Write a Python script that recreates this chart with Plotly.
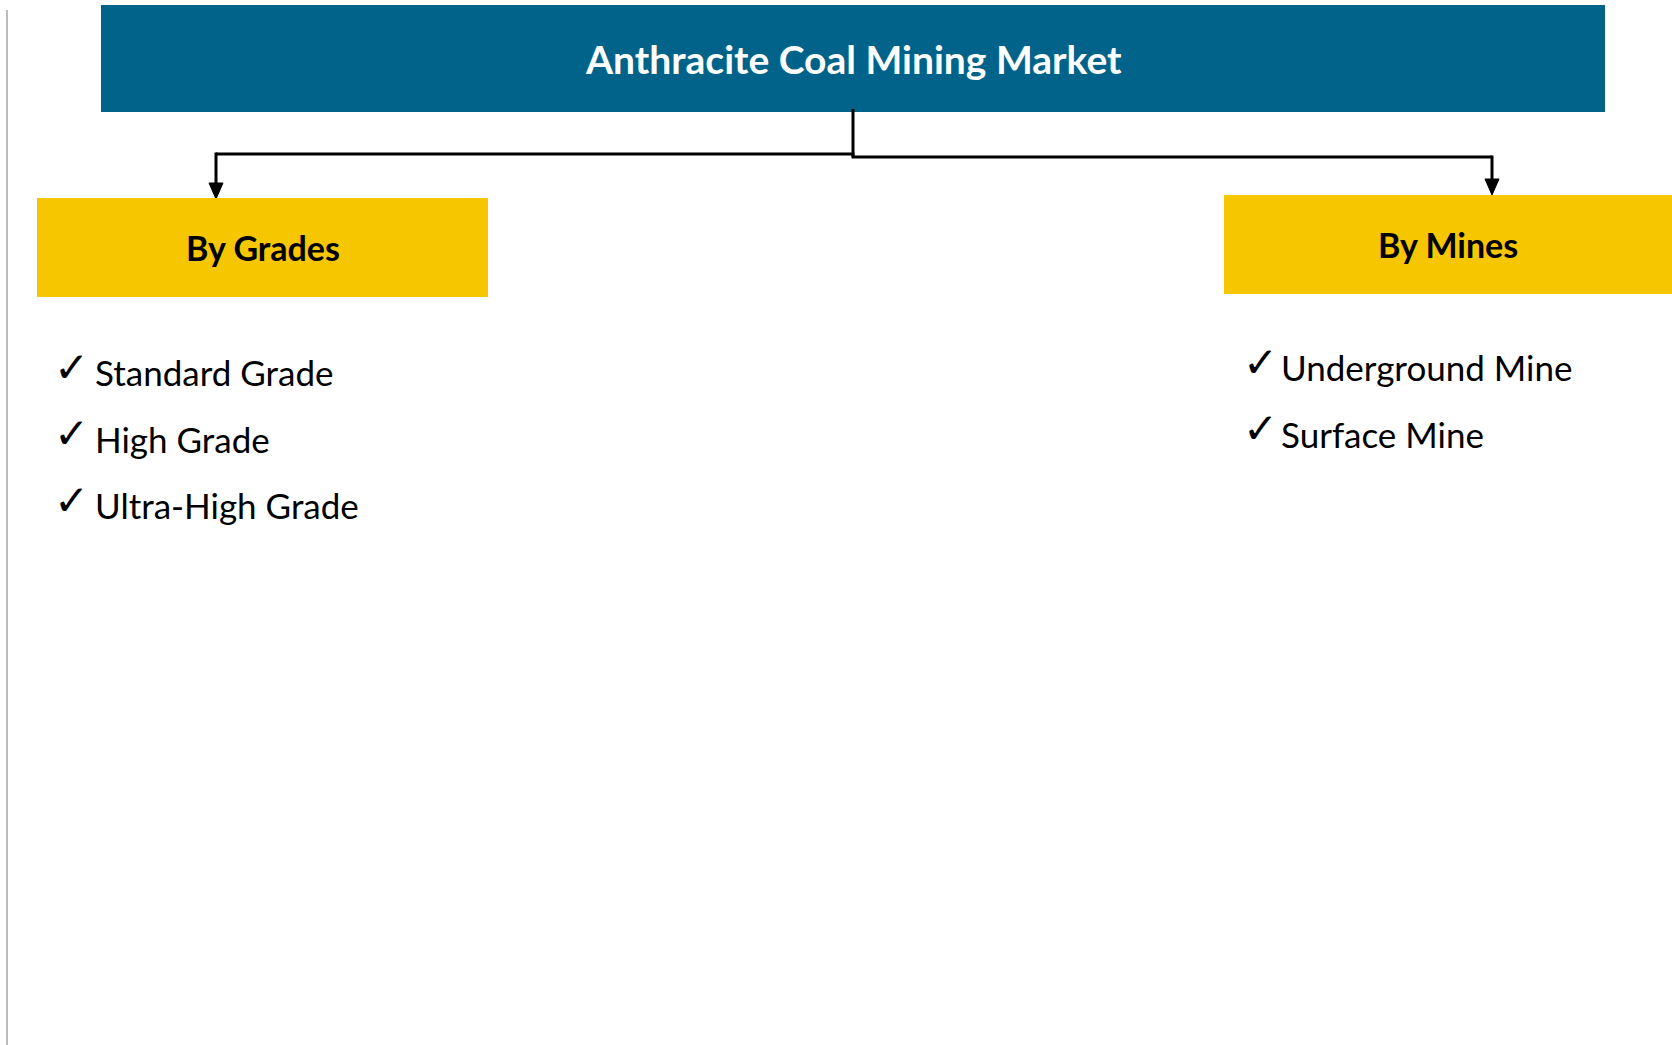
import plotly.graph_objects as go

# ---- content ----
title = "Anthracite Coal Mining Market"
segments = ["By Grades", "By Mines"]
grades = ["Standard Grade", "High Grade", "Ultra-High Grade"]
mines = ["Underground Mine", "Surface Mine"]

BLUE = "#02638A"
YELLOW = "#F6C600"
FONT = "Lato"

W, H = 1672, 1045

fig = go.Figure()
shapes = []
ann = []

# left gray rule
shapes.append(dict(type="line", x0=7, x1=7, y0=10, y1=1045, line=dict(color="#A6A6A6", width=1.5)))

# title box
shapes.append(dict(type="rect", x0=101, x1=1605, y0=5, y1=112, fillcolor=BLUE, line=dict(width=0)))
ann.append(dict(x=853, y=59, text="<b>%s</b>" % title, showarrow=False, xanchor="center", yanchor="middle",
                font=dict(family=FONT, size=39, color="white")))

# connectors
blk = dict(color="black", width=3)
shapes.append(dict(type="line", x0=853, x1=853, y0=109, y1=157, line=blk))
shapes.append(dict(type="line", x0=216, x1=854.5, y0=154, y1=154, line=blk))
shapes.append(dict(type="line", x0=851.5, x1=1492, y0=157, y1=157, line=blk))
shapes.append(dict(type="line", x0=216, x1=216, y0=152.5, y1=186, line=blk))
shapes.append(dict(type="line", x0=1492, x1=1492, y0=155.5, y1=182, line=blk))
for tx, ty in [(216, 199), (1492, 195)]:
    shapes.append(dict(type="path", path="M %d %d L %d %d L %d %d Z" % (tx - 7, ty - 16, tx + 7, ty - 16, tx, ty),
                       fillcolor="black", line=dict(color="black", width=1)))

# segment boxes
boxes = [(37, 488, 198, 297), (1224, 1680, 195, 294)]
for (x0, x1, y0, y1), lab in zip(boxes, segments):
    shapes.append(dict(type="rect", x0=x0, x1=x1, y0=y0, y1=y1, fillcolor=YELLOW, line=dict(width=0)))
    ann.append(dict(x=(x0 + min(x1, 1672)) / 2, y=(y0 + y1) / 2, text="<b>%s</b>" % lab, showarrow=False,
                    xanchor="center", yanchor="middle", font=dict(family=FONT, size=34, color="black")))

# bullet lists
def add_list(items, xcheck, xtext, y_first):
    for i, it in enumerate(items):
        y = y_first + i * 66.7
        ann.append(dict(x=xcheck, y=y - 5, text="✓", showarrow=False, xanchor="center", yanchor="middle",
                        font=dict(family="DejaVu Sans", size=42, color="black")))
        ann.append(dict(x=xtext, y=y, text=it, showarrow=False, xanchor="left", yanchor="middle",
                        font=dict(family=FONT, size=35, color="black")))

add_list(grades, 71.5, 93, 372)
add_list(mines, 1260, 1279, 367)

fig.update_layout(
    width=W, height=H, margin=dict(l=0, r=0, t=0, b=0),
    paper_bgcolor="white", plot_bgcolor="white",
    xaxis=dict(range=[0, W], visible=False, fixedrange=True),
    yaxis=dict(range=[H, 0], visible=False, fixedrange=True),
    shapes=shapes, annotations=ann, showlegend=False,
)
fig.write_html("out.html", config={"displayModeBar": False},
               post_script="document.body.style.margin='0';document.body.style.overflow='hidden';")
